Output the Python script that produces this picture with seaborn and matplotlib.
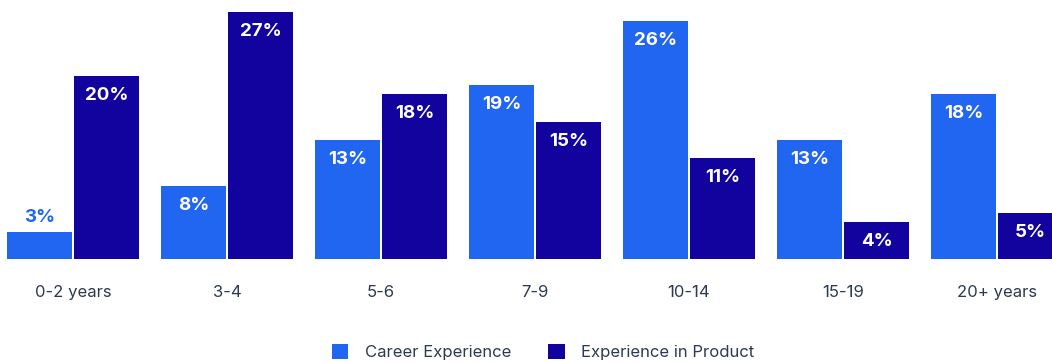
import matplotlib
matplotlib.use("Agg")
import matplotlib.pyplot as plt
from matplotlib.patches import Patch
import pandas as pd
import seaborn as sns

categories = ["0-2 years", "3-4", "5-6", "7-9", "10-14", "15-19", "20+ years"]
series_names = ["Career Experience", "Experience in Product"]
career = [3, 8, 13, 19, 26, 13, 18]
product = [20, 27, 18, 15, 11, 4, 5]

colors = ["#2166F0", "#12039E"]
text_color = "#2D3A50"

df = pd.DataFrame({
    "range": categories * 2,
    "series": [series_names[0]] * len(categories) + [series_names[1]] * len(categories),
    "value": career + product,
})

sns.set_theme(style="white")
plt.rcParams["font.family"] = ["Inter", "DejaVu Sans"]

fig = plt.figure(figsize=(10.52, 3.62), dpi=100)
ax = fig.add_axes([0, 0.2845, 1, 0.7155])

sns.barplot(data=df, x="range", y="value", hue="series", order=categories,
            hue_order=series_names, palette=colors, width=0.87, gap=0.03,
            saturation=1, legend=False, linewidth=0, ax=ax)

ax.set_xlim(-0.474, 6.357)
ax.set_ylim(0, 28.3)
ax.set_xlabel("")
ax.set_ylabel("")
ax.set_yticks([])
for s in ax.spines.values():
    s.set_visible(False)
ax.tick_params(axis="x", length=0, pad=19, labelsize=12, labelcolor=text_color)

# value labels: inside the bar top, or above it when the bar is too short
for container, vals, col in zip(ax.containers, [career, product], colors):
    for patch, v in zip(container.patches, vals):
        cx = patch.get_x() + patch.get_width() / 2
        top = patch.get_height()
        if v >= 4:
            ax.annotate(f"{v}%", (cx, top), xytext=(0, -14), textcoords="offset points",
                        ha="center", va="center", color="white",
                        fontsize=13.5, fontweight="bold")
        else:
            ax.annotate(f"{v}%", (cx, top), xytext=(0, 10), textcoords="offset points",
                        ha="center", va="center", color=col,
                        fontsize=13.5, fontweight="bold")

handles = [Patch(facecolor=c, edgecolor="none") for c in colors]
fig.legend(handles, series_names, loc="center", bbox_to_anchor=(543 / 1052, 1 - 352 / 362),
           ncol=2, frameon=False, fontsize=12, labelcolor=text_color,
           handlelength=1.0, handleheight=1.0, handletextpad=1.0, columnspacing=2.2)

fig.savefig("out.png", dpi=100)
